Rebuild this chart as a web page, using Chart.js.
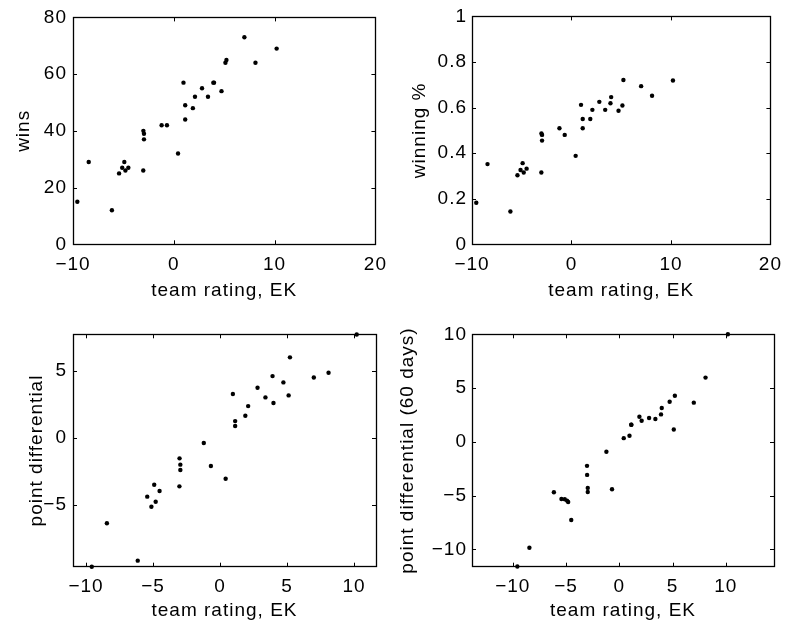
<!DOCTYPE html>
<html><head><meta charset="utf-8">
<script src="https://cdn.jsdelivr.net/npm/chart.js@4"></script>
<style>
html,body{margin:0;padding:0;background:#fff}
body{width:790px;height:629px;position:relative;overflow:hidden}
canvas{position:absolute}
</style></head><body>
<canvas id="c1" width="395" height="314" style="left:0;top:0"></canvas>
<canvas id="c2" width="395" height="314" style="left:395px;top:0"></canvas>
<canvas id="c3" width="395" height="315" style="left:0;top:314px"></canvas>
<canvas id="c4" width="395" height="315" style="left:395px;top:314px"></canvas>
<script>
// team rating (EK), shared x for all four panels
const teamRating = [-9.57,-8.44,-6.14,-5.43,-5.12,-4.91,-4.80,-4.51,-3.03,-3.02,-2.96,-2.96,-1.21,-0.68,0.42,0.96,1.13,1.13,1.89,2.10,2.80,3.39,3.92,3.99,4.73,5.12,5.22,7.00,8.10,10.20];
const wins = [15,29,12,25,27,29,26,27,26,40,39,37,42,42,32,57,49,44,48,52,55,52,57,57,54,64,65,73,64,69];
const winningPct = [0.182,0.352,0.144,0.303,0.326,0.356,0.315,0.332,0.315,0.486,0.480,0.455,0.509,0.480,0.388,0.612,0.550,0.509,0.550,0.590,0.625,0.590,0.619,0.646,0.586,0.609,0.721,0.694,0.652,0.719];
const pointDiff = [-9.63,-6.39,-9.18,-4.40,-5.15,-3.51,-4.78,-3.98,-3.63,-1.54,-2.01,-2.41,-0.40,-2.11,-3.06,3.26,1.24,0.87,1.64,2.36,3.73,3.01,4.60,2.59,4.13,3.16,6.00,4.50,4.85,7.70];
const pointDiff60 = [-11.60,-9.86,-4.70,-5.32,-5.35,-5.47,-5.60,-7.28,-2.24,-3.08,-4.29,-4.67,-0.93,-4.42,0.34,0.56,1.59,1.59,2.33,1.96,2.21,2.12,2.55,3.14,3.73,1.15,4.29,3.64,5.97,10.00];

// tick labels
const xTicksTop = [-10,0,10,20];
const winsTicks = [0,20,40,60,80];
const pctTicks = [0,0.2,0.4,0.6,0.8,1];
const xTicksBottom = [-10,-5,0,5,10];
const pdTicks = [-5,0,5];
const pd60Ticks = [-10,-5,0,5,10];

const FONT = 'Arial, "Liberation Sans", Helvetica, sans-serif';
const FS = 19;

function fmt(v){
  let s = (Math.round(v*100)/100).toString();
  return s.replace('-', '\u2212');
}

const spacing = {
  id:'spacing',
  beforeDraw(chart){ try{ chart.ctx.letterSpacing = '1px'; }catch(e){} }
};

const boxTicks = {
  id:'boxTicks',
  afterDatasetsDraw(chart){
    const {ctx, chartArea:{left,right,top,bottom}, scales:{x,y}} = chart;
    const L = 4;
    ctx.save();
    ctx.strokeStyle = '#000';
    ctx.lineWidth = 1;
    ctx.beginPath();
    x.ticks.forEach(t=>{
      const p = Math.round(x.getPixelForValue(t.value))+0.5;
      ctx.moveTo(p,bottom); ctx.lineTo(p,bottom-L);
      ctx.moveTo(p,top); ctx.lineTo(p,top+L);
    });
    y.ticks.forEach(t=>{
      const p = Math.round(y.getPixelForValue(t.value))+0.5;
      ctx.moveTo(left,p); ctx.lineTo(left+L,p);
      ctx.moveTo(right,p); ctx.lineTo(right-L,p);
    });
    ctx.stroke();
    ctx.lineWidth = 1.3;
    ctx.strokeRect(Math.round(left)+0.5, Math.round(top)+0.5, Math.round(right-left), Math.round(bottom-top));
    ctx.restore();
  }
};

function makePanel(id, yVals, cfg){
  const pts = teamRating.map((xv,i)=>({x:xv, y:yVals[i]}));
  new Chart(document.getElementById(id), {
    type:'scatter',
    data:{datasets:[{data:pts, backgroundColor:'#000', borderWidth:0, pointRadius:2.2, pointHoverRadius:2.2, clip:false}]},
    options:{
      responsive:false, animation:false, events:[],
      layout:{padding:cfg.pad},
      plugins:{legend:{display:false}, tooltip:{enabled:false}},
      scales:{
        x:{
          type:'linear', min:cfg.xMin, max:cfg.xMax,
          grid:{display:false, drawTicks:false}, border:{display:false},
          afterBuildTicks:(s)=>{ s.ticks = cfg.xTicks.map(v=>({value:v})); },
          afterFit:(s)=>{ s.height = cfg.xH; },
          ticks:{color:'#000', font:{family:FONT,size:FS}, padding:cfg.xTickPad, maxRotation:0, autoSkip:false, callback:(v)=>fmt(v)},
          title:{display:true, text:'team rating, EK', color:'#000', font:{family:FONT,size:FS}, padding:{top:0,bottom:cfg.xTitlePad}}
        },
        y:{
          type:'linear', min:cfg.yMin, max:cfg.yMax,
          grid:{display:false, drawTicks:false}, border:{display:false},
          afterBuildTicks:(s)=>{ s.ticks = cfg.yTicks.map(v=>({value:v})); },
          afterFit:(s)=>{ s.width = cfg.yW; },
          ticks:{color:'#000', font:{family:FONT,size:FS}, padding:cfg.yTickPad, autoSkip:false, callback:(v)=>fmt(v)},
          title:{display:true, text:cfg.yTitle, color:'#000', font:{family:FONT,size:FS}, padding:{top:cfg.yTitlePad,bottom:0}}
        }
      }
    },
    plugins:[spacing, boxTicks]
  });
}

makePanel('c1', wins, {pad:{top:13.3,right:19,bottom:0,left:0}, xMin:-10, xMax:20, yMin:0, yMax:80,
  xTicks:xTicksTop, yTicks:winsTicks, xH:69.7, yW:73, xTickPad:9, yTickPad:6, xTitlePad:11.6, yTitlePad:12.2, yTitle:'wins'});
makePanel('c2', winningPct, {pad:{top:13.3,right:16,bottom:0,left:0}, xMin:-10, xMax:20, yMin:0, yMax:1,
  xTicks:xTicksTop, yTicks:pctTicks, xH:69.7, yW:77, xTickPad:9, yTickPad:5, xTitlePad:11.6, yTitlePad:13.2, yTitle:'winning %'});
makePanel('c3', pointDiff, {pad:{top:20.3,right:19,bottom:0,left:0}, xMin:-10.97, xMax:11.64, yMin:-9.63, yMax:7.72,
  xTicks:xTicksBottom, yTicks:pdTicks, xH:62.3, yW:73, xTickPad:9, yTickPad:6, xTitlePad:7, yTitlePad:25.6, yTitle:'point differential'});
makePanel('c4', pointDiff60, {pad:{top:20.3,right:16,bottom:0,left:0}, xMin:-13.83, xMax:14.53, yMin:-11.62, yMax:10.0,
  xTicks:xTicksBottom, yTicks:pd60Ticks, xH:62.3, yW:77, xTickPad:9, yTickPad:5, xTitlePad:7, yTitlePad:1.5, yTitle:'point differential (60 days)'});
</script>
</body></html>
